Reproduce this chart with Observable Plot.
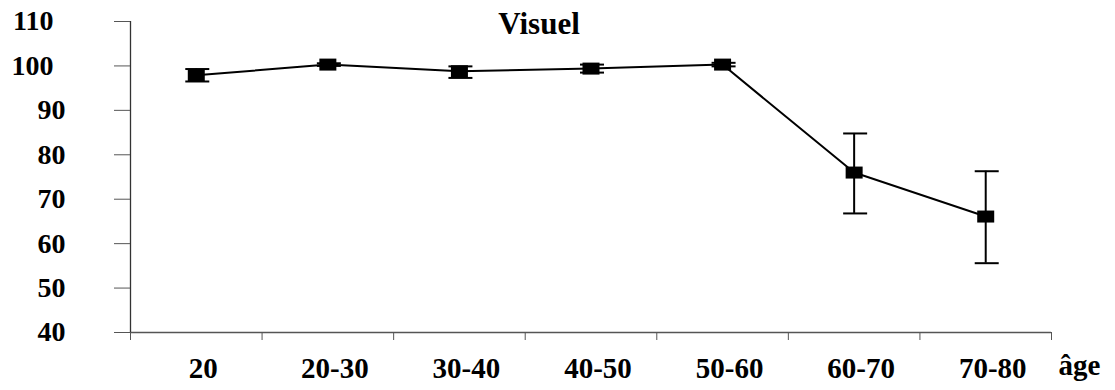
<!DOCTYPE html>
<html>
<head>
<meta charset="utf-8">
<script src="https://cdn.jsdelivr.net/npm/d3@7"></script>
<script src="https://cdn.jsdelivr.net/npm/@observablehq/plot@0.6"></script>
<style>
  html, body { margin: 0; padding: 0; background: #fff; }
  #chart svg { display: block; font-family: "Liberation Serif", "Times New Roman", serif !important; }
  #chart svg text { font-family: "Liberation Serif", "Times New Roman", serif !important; font-weight: bold; }
</style>
</head>
<body>
<div id="chart"></div>
<script>
const categories = ["20", "20-30", "30-40", "40-50", "50-60", "60-70", "70-80"];
const values = [97.9, 100.3, 98.8, 99.4, 100.3, 76.0, 66.1];
const errLow = [96.5, 100.0, 97.3, 98.5, 99.9, 66.8, 55.6];
const errHigh = [99.3, 100.6, 99.9, 100.3, 100.7, 84.8, 76.3];
const yTicks = [40, 50, 60, 70, 80, 90, 100, 110];
const title = "Visuel";
const xTitle = "âge";

const data = categories.map((c, i) => ({cat: c, i, v: values[i], lo: errLow[i], hi: errHigh[i]}));
const n = categories.length;

const squareSymbol = { draw(ctx) { ctx.rect(-8.5, -6, 17, 12); } };
const capSymbol = { draw(ctx) { ctx.moveTo(-12, 0); ctx.lineTo(12, 0); } };

const font = "Liberation Serif";

const chart = Plot.plot({
  width: 1115,
  height: 390,
  marginLeft: 130,
  marginRight: 64,
  marginTop: 21,
  marginBottom: 58,
  style: { background: "#fff", color: "#000" },
  x: { type: "linear", domain: [0, n], axis: null },
  y: { domain: [40, 110], axis: null },
  marks: [
    Plot.ruleY([40], { x1: 0, x2: n, stroke: "#555", strokeWidth: 1.3 }),
    Plot.ruleX([0], { y1: 40, y2: 110, stroke: "#333", strokeWidth: 1.3 }),
    Plot.axisY({ ticks: yTicks.filter(t => t < 100), tickSize: 16, tickPadding: 49, stroke: "#555", fontSize: 28, fontFamily: font, fontWeight: "bold", label: null, tickFormat: d => String(d) }),
    Plot.axisY({ ticks: yTicks.filter(t => t >= 100), tickSize: 16, tickPadding: 61, stroke: "#555", fontSize: 28, fontFamily: font, fontWeight: "bold", label: null, tickFormat: d => String(d) }),
    Plot.axisX({ ticks: d3.range(0, n + 1), tickSize: 8, tickFormat: () => "", stroke: "#555", label: null }),
    Plot.axisX({ ticks: d3.range(n).map(i => i + 0.5), tickSize: 0, tickPadding: 25, dx: 7, fontSize: 29, fontFamily: font, fontWeight: "bold", label: null, tickFormat: d => categories[Math.floor(d)] }),
    Plot.ruleX(data, { x: d => d.i + 0.5, y1: "lo", y2: "hi", stroke: "#000", strokeWidth: 2 }),
    Plot.dot(data, { x: d => d.i + 0.5, y: "lo", symbol: capSymbol, stroke: "#000", strokeWidth: 2, dx: 1 }),
    Plot.dot(data, { x: d => d.i + 0.5, y: "hi", symbol: capSymbol, stroke: "#000", strokeWidth: 2, dx: 1 }),
    Plot.line(data, { x: d => d.i + 0.5, y: "v", stroke: "#000", strokeWidth: 2 }),
    Plot.dot(data, { x: d => d.i + 0.5, y: "v", symbol: squareSymbol, fill: "#000", stroke: "none" }),
    Plot.text([title], { frameAnchor: "top", dx: -52, dy: 3, lineAnchor: "middle", fontSize: 31, fontFamily: font, fontWeight: "bold", fill: "#000" }),
    Plot.text([xTitle], { frameAnchor: "bottom-right", textAnchor: "start", lineAnchor: "middle", dx: 7, dy: 33, fontSize: 29, fontFamily: font, fontWeight: "bold", fill: "#000" })
  ]
});
document.getElementById("chart").appendChild(chart);
</script>
</body>
</html>
